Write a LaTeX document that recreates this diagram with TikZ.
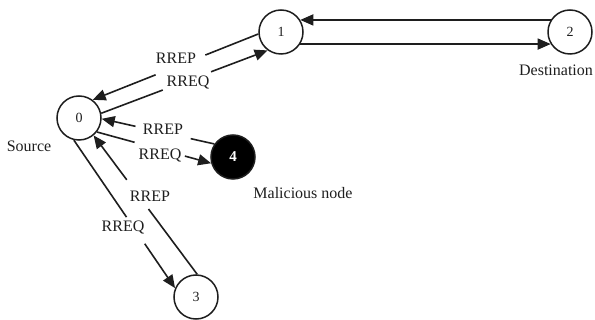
\documentclass[tikz,border=0pt]{standalone}
\usepackage{fontspec}
\setmainfont{Liberation Serif}
\usetikzlibrary{calc,arrows.meta}
\definecolor{ink}{HTML}{1E1E1E}
\tikzset{
  netnode/.style={circle,draw=ink,line width=1.5pt,minimum size=44pt,inner sep=0pt,
    font=\fontsize{14}{14}\selectfont,text=ink},
  badnode/.style={netnode,fill=black,text=white,font=\fontsize{15}{15}\selectfont\bfseries},
  lbl/.style={inner sep=0pt,font=\fontsize{16}{16}\selectfont,text=ink},
  ln/.style={draw=ink,line width=1.6pt},
  arr/.style={-{Triangle[length=13pt,width=11pt]}}
}
% line from #1 to #2, broken between fractions #3 and #4 for a label
\newcommand\gapline[4]{%
  \draw[ln] (#1) -- ($(#1)!#3!(#2)$);
  \draw[ln,arr] ($(#1)!#4!(#2)$) -- (#2);
}
\begin{document}
\begin{tikzpicture}[x=1pt,y=-1pt]
\useasboundingbox (0,0) rectangle (595,320);

% nodes
\node[netnode] (n0) at (79,118) {0};
\node[netnode] (n1) at (281,32) {1};
\node[netnode] (n2) at (570,32) {2};
\node[netnode] (n3) at (196,297) {3};
\node[badnode] (n4) at (233,157) {4};

% node captions
\node[lbl] (src) at (29,146) {Source};
\node[lbl] (dst) at (556,70) {Destination};
\node[lbl] (mal) at (303,193) {Malicious node};

% source <-> 1
\gapline{n1.185}{n0.53}{0.32}{0.62}
\node[lbl] (p10) at (176,58) {RREP};
\gapline{n0.12}{n1.234}{0.37}{0.66}
\node[lbl] (q01) at (188,83) {RREQ};

% 1 <-> destination
\draw[ln,arr] (n2.148) -- (n1.32);
\draw[ln,arr] (n1.-32) -- (n2.212);

% source <-> malicious node
\gapline{n4.145}{n0.-2}{0.21}{0.70}
\node[lbl] (p40) at (163,129) {RREP};
\gapline{n0.322}{n4.196}{0.33}{0.77}
\node[lbl] (q04) at (160,156) {RREQ};

% source <-> 3
\gapline{n0.257}{n3.157}{0.52}{0.70}
\node[lbl] (q03) at (123,228) {RREQ};
\gapline{n3.87}{n0.310}{0.47}{0.68}
\node[lbl] (p30) at (150,196) {RREP};
\end{tikzpicture}
\end{document}
